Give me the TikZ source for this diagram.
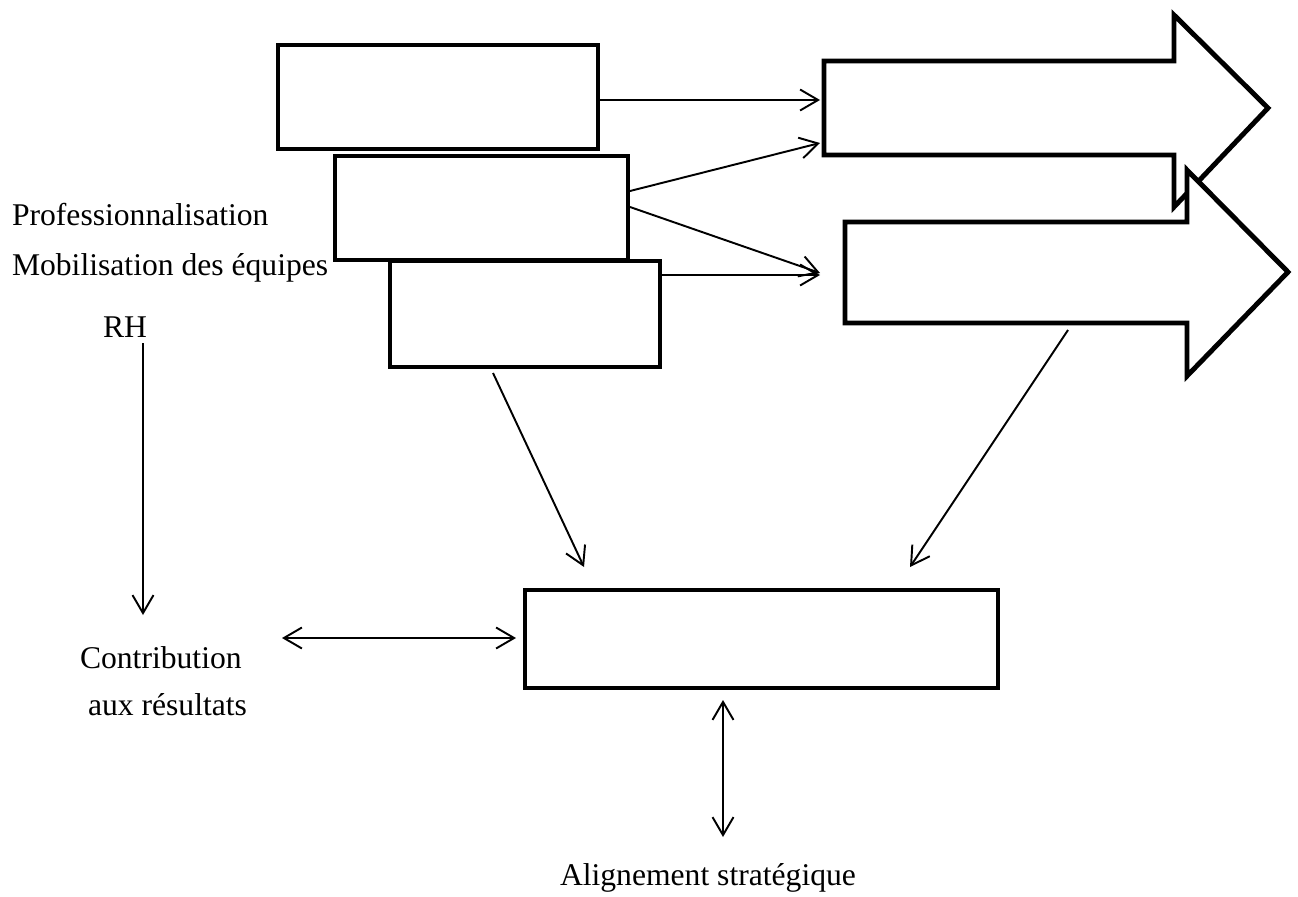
\documentclass[tikz,border=0pt]{standalone}
\usepackage{fontspec}
\setmainfont{Liberation Serif}
\usetikzlibrary{arrows.meta}
\tikzset{
  boxnode/.style={draw, line width=2.8pt, fill=white, inner sep=0pt, outer sep=0pt, rectangle},
  blockarrow/.style={draw, line width=2.8pt, fill=white, line join=miter},
  conn/.style={line width=1.1pt, -{Straight Barb[length=0.36cm,width=0.42cm,line width=1.1pt]}},
  dconn/.style={line width=1.1pt, {Straight Barb[length=0.36cm,width=0.42cm,line width=1.1pt]}-{Straight Barb[length=0.36cm,width=0.42cm,line width=1.1pt]}},
  lbl/.style={inner sep=0pt, outer sep=0pt, anchor=base west, font=\fontsize{18}{22}\selectfont}
}
\begin{document}
\begin{tikzpicture}[x=0.02cm,y=-0.02cm]
\useasboundingbox (0,0) rectangle (1298,896);
% stacked boxes
\node[boxnode, minimum width=320*0.02cm, minimum height=104*0.02cm] (b1) at (438,97) {};
\node[boxnode, minimum width=293*0.02cm, minimum height=104*0.02cm] (b2) at (481.5,208) {};
\node[boxnode, minimum width=270*0.02cm, minimum height=106*0.02cm] (b3) at (525,314) {};
% bottom box
\node[boxnode, minimum width=473*0.02cm, minimum height=98*0.02cm] (bb) at (761.5,639) {};
% block arrows
\draw[blockarrow] (824,61) -- (1174,61) -- (1174,15) -- (1268,108) -- (1174,207) -- (1174,155) -- (824,155) -- cycle;
\draw[blockarrow] (845,222) -- (1187,222) -- (1187,170) -- (1288,272) -- (1187,376) -- (1187,323) -- (845,323) -- cycle;
% connector end points
\coordinate (b1o) at (598,100);
\coordinate (a1i1) at (820,100);
\coordinate (b2o1) at (630,191);
\coordinate (a1i2) at (820,143);
\coordinate (b2o2) at (630,207);
\coordinate (a2i1) at (820,273);
\coordinate (b3o) at (660,275);
\coordinate (a2i2) at (820,275);
\coordinate (b3d) at (493,373);
\coordinate (bbl) at (584,567);
\coordinate (a2d) at (1068,330);
\coordinate (bbr) at (910,567);
\coordinate (bbw) at (516,638);
\coordinate (bbs) at (723,700);
% labels
\node[lbl] (prof) at (12,225) {Professionnalisation};
\node[lbl] (mobi) at (12,275) {Mobilisation des équipes};
\node[lbl] (rh) at (103,337) {RH};
\node[lbl] (contrib) at (80,668) {Contribution};
\node[lbl] (aux) at (88,715) {aux résultats};
\node[lbl] (align) at (560,885) {Alignement stratégique};
\coordinate (rhs) at (143,343);
\coordinate (rhe) at (143,615);
\coordinate (cw) at (282,638);
\coordinate (ae) at (723,837);
% connectors
\draw[conn] (b1o) -- (a1i1);
\draw[conn] (b2o1) -- (a1i2);
\draw[conn] (b2o2) -- (a2i1);
\draw[conn] (b3o) -- (a2i2);
\draw[conn] (b3d) -- (bbl);
\draw[conn] (a2d) -- (bbr);
\draw[conn] (rhs) -- (rhe);
\draw[dconn] (cw) -- (bbw);
\draw[dconn] (bbs) -- (ae);
\end{tikzpicture}
\end{document}
